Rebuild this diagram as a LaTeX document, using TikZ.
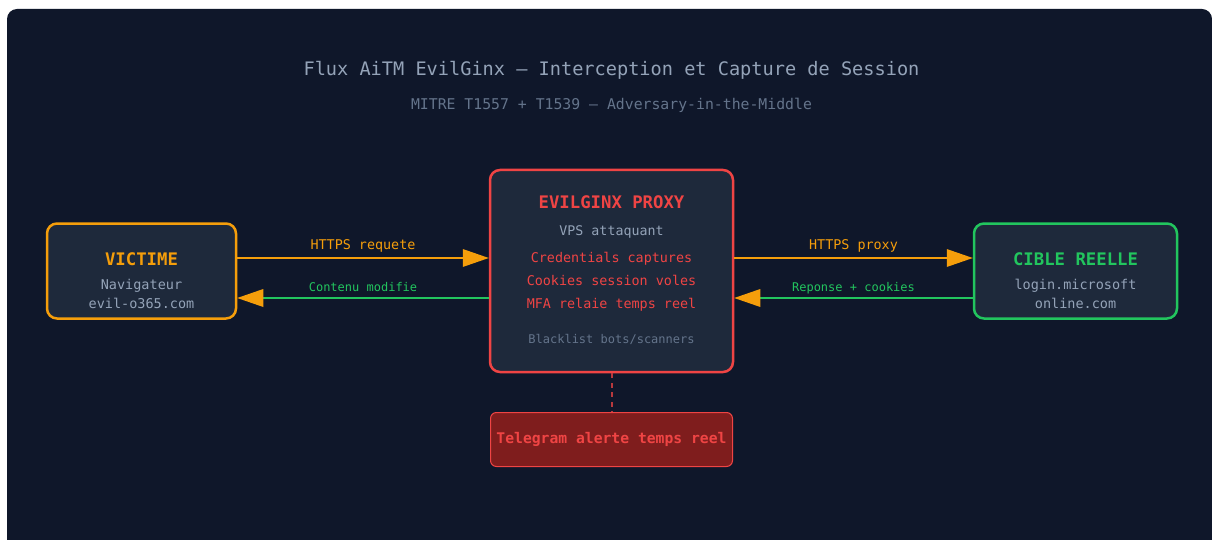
\documentclass[tikz,border=0pt]{standalone}
\usepackage{fontspec}
\setmonofont{DejaVu Sans Mono}
\usetikzlibrary{arrows.meta, positioning}

\definecolor{bgdark}{HTML}{0F172A}
\definecolor{boxfill}{HTML}{1E293B}
\definecolor{amber}{HTML}{F59E0B}
\definecolor{leaf}{HTML}{22C55E}
\definecolor{alert}{HTML}{EF4444}
\definecolor{alertdark}{HTML}{7F1D1D}
\definecolor{mist}{HTML}{94A3B8}
\definecolor{slate}{HTML}{64748B}

\tikzset{
  box/.style={draw, line width=2.5pt, rounded corners=10pt, fill=boxfill, inner sep=0pt},
  txt/.style={inner sep=0pt, anchor=base, font=\ttfamily\fontsize{#1}{#1}\selectfont},
  hd/.style={inner sep=0pt, anchor=base, font=\ttfamily\bfseries\fontsize{17.3}{20}\selectfont},
  flow/.style={line width=2.5pt, -{Triangle[length=26pt, width=18pt, color=amber, line width=0pt]}},
  haut/.style={midway, above=7.5pt, inner sep=0pt, text depth=0pt, font=\ttfamily\fontsize{13.4}{15}\selectfont},
  bas/.style={midway, above=5pt, inner sep=0pt, text depth=0pt, font=\ttfamily\fontsize{12}{14}\selectfont}
}

\begin{document}
\begin{tikzpicture}[x=1pt, y=-1pt, on grid]
  \useasboundingbox (0,0) rectangle (1212,540);
  \fill [white] (0,0) rectangle (1212,540);
  \fill [bgdark, rounded corners=10pt] (7,9) rectangle (1212,552);

  % titre
  \node (titre) [txt=18.6, text=mist] at (611.5,75.5) {Flux AiTM EvilGinx — Interception et Capture de Session};
  \node (soustitre) [txt=14.8, text=slate] at (611.5,109.5) {MITRE T1557 + T1539 — Adversary-in-the-Middle};

  % boites
  \node (proxy) [box, draw=alert, minimum width=243pt, minimum height=202pt] at (611.5,271) {};
  \node (victime) [box, draw=amber, minimum width=189pt, minimum height=95pt, left=470pt of proxy] {};
  \node (cible) [box, draw=leaf, minimum width=203pt, minimum height=95pt, right=464pt of proxy] {};
  \node (alerte) [draw=alert, fill=alertdark, line width=1pt, rounded corners=6pt, minimum width=242pt,
    minimum height=54pt, below=168.5pt of proxy, text=alert, font=\ttfamily\bfseries\fontsize{14.7}{17}\selectfont]
    {Telegram alerte temps reel};

  % textes
  \node (victime-t) [hd, text=amber] at (141.5,265) {VICTIME};
  \node (victime-a) [txt=13.5, text=mist] at (141.5,289.5) {Navigateur};
  \node (victime-b) [txt=13.5, text=mist] at (141.5,308) {evil-o365.com};

  \node (proxy-t) [hd, text=alert] at (611.5,208) {EVILGINX PROXY};
  \node (proxy-a) [txt=13.3, text=mist] at (611.5,235) {VPS attaquant};
  \node (proxy-b) [txt=13.4, text=alert] at (611.5,262) {Credentials captures};
  \node (proxy-c) [txt=13.4, text=alert] at (611.5,285.5) {Cookies session voles};
  \node (proxy-d) [txt=13.4, text=alert] at (611.5,308) {MFA relaie temps reel};
  \node (proxy-e) [txt=12, text=slate] at (611.5,343) {Blacklist bots/scanners};

  \node (cible-t) [hd, text=leaf] at (1075.5,265) {CIBLE REELLE};
  \node (cible-a) [txt=13.5, text=mist] at (1075.5,289.5) {login.microsoft};
  \node (cible-b) [txt=13.5, text=mist] at (1075.5,308) {online.com};

  % flux
  \draw [flow, amber] ([yshift=13pt]victime.east) -- node [haut, text=amber] {HTTPS requete} ([yshift=13pt]proxy.west);
  \draw [flow, leaf] ([yshift=-27pt]proxy.west) -- node [bas, text=leaf] {Contenu modifie} ([yshift=-27pt]victime.east);
  \draw [flow, amber] ([yshift=13pt]proxy.east) -- node [haut, text=amber] {HTTPS proxy} ([yshift=13pt]cible.west);
  \draw [flow, leaf] ([yshift=-27pt]cible.west) -- node [bas, text=leaf] {Reponse + cookies} ([yshift=-27pt]proxy.east);
  \draw [alert!75!bgdark, line width=2pt, dash pattern=on 5pt off 4.5pt] (proxy.south) -- (alerte.north);
\end{tikzpicture}
\end{document}
